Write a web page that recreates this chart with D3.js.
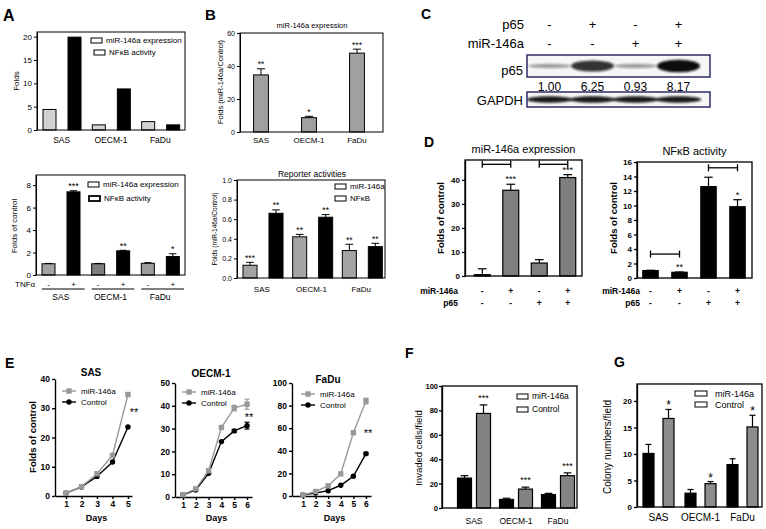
<!DOCTYPE html>
<html><head><meta charset="utf-8">
<script src="https://cdn.jsdelivr.net/npm/d3@7"></script>
<style>
body{margin:0;background:#fff}
svg{display:block;font-family:"Liberation Sans",Arial,Helvetica,sans-serif}
</style></head><body>
<svg id="fig" width="766" height="529"></svg>
<script>
// ---------------- DATA ----------------
const cellLines = ["SAS", "OECM-1", "FaDu"];
// Panel A (top)
const aTopMir = [4.4, 1.1, 1.8];
const aTopNfkb = [19.9, 8.8, 1.1];
const aTopTicks = [0, 5, 10, 15, 20];
// Panel A (bottom)
const aBotCtrl = [1.0, 1.0, 1.04];
const aBotCtrlErr = [0.03, 0.03, 0.06];
const aBotTnf = [7.4, 2.15, 1.64];
const aBotTnfErr = [0.1, 0.05, 0.25];
const aBotStars = ["***", "**", "*"];
const aBotTicks = [0, 2, 4, 6, 8];
const tnfSigns = ["-", "+"];
// Panel B (top)
const bTopVals = [34.6, 8.7, 47.8];
const bTopErr = [3.7, 0.8, 2.4];
const bTopStars = ["**", "*", "***"];
const bTopTicks = [0, 20, 40, 60];
// Panel B (bottom)
const bBotMir = [0.13, 0.42, 0.28];
const bBotMirErr = [0.03, 0.025, 0.064];
const bBotMirStars = ["***", "**", "**"];
const bBotNfkb = [0.66, 0.62, 0.32];
const bBotNfkbErr = [0.035, 0.027, 0.034];
const bBotNfkbStars = ["**", "**", "**"];
const bBotTicks = [0, 0.2, 0.4, 0.6, 0.8, 1.0];
// Panel C (western blot)
const cLanes = ["L1", "L2", "L3", "L4"];
const cP65Signs = ["-", "+", "-", "+"];
const cMirSigns = ["-", "-", "+", "+"];
const cP65Quant = [1.00, 6.25, 0.93, 8.17];
const cGapdh = [1, 1, 1, 1];
// Panel D
const dMirSigns = ["-", "+", "-", "+"];
const dP65Signs = ["-", "-", "+", "+"];
const dMirVals = [0.55, 35.7, 5.4, 41.0];
const dMirErr = [2.45, 2.5, 1.4, 1.2];
const dMirStars = ["", "***", "", "***"];
const dMirTicks = [0, 10, 20, 30, 40];
const dMirBrackets = [[0, 1], [2, 3]];
const dMirBracketLevel = [46.5, 46.5];
const dNfkbVals = [1.02, 0.79, 12.6, 9.83];
const dNfkbErr = [0.05, 0.04, 1.3, 0.97];
const dNfkbStars = ["", "**", "", "*"];
const dNfkbTicks = [0, 2, 4, 6, 8, 10, 12, 14, 16];
const dNfkbBrackets = [[0, 1], [2, 3]];
const dNfkbBracketLevel = [3.3, 15.2];
// Panel E (growth curves)
const days5 = [1, 2, 3, 4, 5];
const days6 = [1, 2, 3, 4, 5, 6];
const eSasMir = [1.0, 3.2, 7.6, 13.9, 34.7];
const eSasCtrl = [1.0, 3.1, 6.7, 11.6, 23.6];
const eOecmMir = [1.0, 3.6, 11.5, 30.5, 39.0, 40.7];
const eOecmMirErr = [0, 0, 0, 0, 1.2, 2.2];
const eOecmCtrl = [1.0, 3.1, 10.4, 24.3, 29.0, 31.3];
const eOecmCtrlErr = [0, 0, 0, 0, 0.6, 1.5];
const eFaduMir = [1.0, 4.0, 9.0, 19.5, 56.0, 84.0];
const eFaduMirErr = [0, 0, 0, 0, 1.5, 2.5];
const eFaduCtrl = [1.0, 2.6, 4.7, 9.5, 17.5, 37.5];
const eFaduCtrlErr = [0, 0, 0, 0, 0.5, 1.0];
const eSasTicks = [0, 10, 20, 30, 40];
const eOecmTicks = [0, 10, 20, 30, 40, 50];
const eFaduTicks = [0, 20, 40, 60, 80, 100];
// Panel F (invasion)
const fMir = [24.5, 7.0, 11.0];
const fMirErr = [2.0, 1.0, 1.0];
const fCtrl = [77.5, 15.5, 26.5];
const fCtrlErr = [7.0, 1.6, 2.3];
const fStars = ["***", "***", "***"];
const fTicks = [0, 20, 40, 60, 80, 100];
// Panel G (colony formation)
const gMir = [10.1, 2.6, 8.0];
const gMirErr = [1.7, 0.7, 1.1];
const gCtrl = [16.7, 4.4, 15.1];
const gCtrlErr = [1.7, 0.4, 2.2];
const gStars = ["*", "*", "*"];
const gTicks = [0, 5, 10, 15, 20];

// ---------------- HELPERS ----------------
const svg = d3.select("#fig");
const FF = '"Liberation Sans", Arial, Helvetica, sans-serif';
const defs = svg.append("defs");
defs.append("filter").attr("id", "blur").attr("x", "-30%").attr("y", "-150%")
  .attr("width", "160%").attr("height", "400%")
  .append("feGaussianBlur").attr("stdDeviation", 1.3);

function txt(g, x, y, s, o = {}) {
  const e = g.append("text").attr("x", x).attr("y", y).text(s)
    .attr("font-size", o.fs || 8).attr("font-weight", o.fw || "normal")
    .attr("text-anchor", o.anchor || "start").attr("fill", o.fill || "#000");
  if (o.rot) e.attr("transform", `rotate(-90,${x},${y})`).attr("dominant-baseline", "central");
  return e;
}
function frame(g, x0, y0, x1, y1, sw = 1) {
  g.append("rect").attr("x", x0).attr("y", y0).attr("width", x1 - x0).attr("height", y1 - y0)
    .attr("fill", "none").attr("stroke", "#000").attr("stroke-width", sw);
}
function yAxis(g, y, x0, ticks, o = {}) {
  const a = g.append("g").attr("transform", `translate(${x0},0)`)
    .call(d3.axisLeft(y).tickValues(ticks).tickSize(o.ts || 3).tickSizeOuter(0)
      .tickPadding(o.tp || 2).tickFormat(o.fmt || (d => d)));
  a.attr("font-family", FF).attr("font-size", o.fs || 8).attr("font-weight", o.fw || "normal");
  a.select(".domain").attr("stroke", "#000").attr("stroke-width", o.sw || 1);
  a.selectAll(".tick line").attr("stroke", "#000").attr("stroke-width", o.sw || 1);
  a.selectAll(".tick text").attr("fill", "#000");
  return a;
}
function xAxis(g, x, y0, ticks, o = {}) {
  const a = g.append("g").attr("transform", `translate(0,${y0})`)
    .call(d3.axisBottom(x).tickValues(ticks).tickSize(o.ts || 3).tickSizeOuter(0)
      .tickPadding(o.tp || 2).tickFormat(d3.format("d")));
  a.attr("font-family", FF).attr("font-size", o.fs || 8).attr("font-weight", o.fw || "normal");
  a.select(".domain").attr("stroke", "#000").attr("stroke-width", o.sw || 1);
  a.selectAll(".tick line").attr("stroke", "#000").attr("stroke-width", o.sw || 1);
  a.selectAll(".tick text").attr("fill", "#000");
  return a;
}
function drawBars(g, vals, errs, xPos, w, y, fill, o = {}) {
  const sw = o.sw || 1;
  g.append("g").selectAll("rect").data(vals).join("rect")
    .attr("x", (d, i) => xPos(i)).attr("y", d => y(d)).attr("width", w)
    .attr("height", d => y(0) - y(d))
    .attr("fill", (d, i) => typeof fill === "function" ? fill(i) : fill)
    .attr("stroke", "#000").attr("stroke-width", sw);
  if (errs) {
    const cw = o.cap || w * 0.55;
    const eg = g.append("g").attr("stroke", "#000").attr("stroke-width", sw);
    vals.forEach((d, i) => {
      if (!errs[i]) return;
      const cx = xPos(i) + w / 2, yt = y(d + errs[i]);
      eg.append("line").attr("x1", cx).attr("x2", cx).attr("y1", y(d)).attr("y2", yt);
      eg.append("line").attr("x1", cx - cw / 2).attr("x2", cx + cw / 2).attr("y1", yt).attr("y2", yt);
    });
  }
}
function drawStars(g, vals, errs, stars, xPos, w, y, fs, gap) {
  g.append("g").selectAll("text").data(stars).join("text")
    .attr("x", (d, i) => xPos(i) + w / 2)
    .attr("y", (d, i) => y(vals[i] + (errs ? errs[i] : 0)) - gap)
    .attr("text-anchor", "middle").attr("font-size", fs).attr("fill", "#000").text(d => d);
}
function catLabels(g, x, y0, fs, fw) {
  g.append("g").selectAll("text").data(cellLines).join("text")
    .attr("x", d => x(d) + x.bandwidth() / 2).attr("y", y0)
    .attr("text-anchor", "middle").attr("font-size", fs).attr("font-weight", fw || "normal").text(d => d);
}
function legendBox(g, x, y, w, h, label, o = {}) {
  g.append("rect").attr("x", x).attr("y", y).attr("width", w).attr("height", h)
    .attr("fill", o.fill || "#fff").attr("stroke", "#000").attr("stroke-width", o.sw || 1);
  txt(g, x + w + (o.gap || 4), y + h / 2 + (o.fs || 8) * 0.35, label, { fs: o.fs || 8 });
}

// ---------------- PANEL A (top) ----------------
{
  const g = svg.append("g");
  txt(g, 3, 21, "A", { fs: 16, fw: "bold" });
  const x = d3.scaleBand().domain(cellLines).range([37, 185]);
  const sub = d3.scaleBand().domain(["mir", "nfkb"]).range([6, 44]).paddingInner(0.48);
  const y = d3.scaleLinear().domain([0, 21]).range([130, 32]);
  drawBars(g, aTopMir, null, i => x(cellLines[i]) + sub("mir"), sub.bandwidth(), y, "#d2d2d2");
  drawBars(g, aTopNfkb, null, i => x(cellLines[i]) + sub("nfkb"), sub.bandwidth(), y, "#000");
  frame(g, 37, 32, 185, 130);
  yAxis(g, y, 37, aTopTicks, { fs: 8 });
  catLabels(g, x, 143, 8.5);
  legendBox(g, 91, 38, 11, 5, "miR-146a expression", { fs: 8 });
  legendBox(g, 94, 50, 11, 5, "NF\u03BAB activity", { fs: 8 });
  txt(g, 16, 81, "Folds", { fs: 8, rot: true, anchor: "middle" });
}

// ---------------- PANEL A (bottom) ----------------
{
  const g = svg.append("g");
  const x = d3.scaleBand().domain(cellLines).range([36, 185]);
  const sub = d3.scaleBand().domain(tnfSigns).range([6, 44]).paddingInner(0.48);
  const y = d3.scaleLinear().domain([0, 8.9]).range([275, 175]);
  const ctrlCols = ["#a3a3a3", "#7d7d7d", "#9c9c9c"];
  drawBars(g, aBotCtrl, aBotCtrlErr, i => x(cellLines[i]) + sub("-"), sub.bandwidth(), y, i => ctrlCols[i]);
  drawBars(g, aBotTnf, aBotTnfErr, i => x(cellLines[i]) + sub("+"), sub.bandwidth(), y, "#000");
  drawStars(g, aBotTnf, aBotTnfErr, aBotStars, i => x(cellLines[i]) + sub("+"), sub.bandwidth(), y, 9, 1.5);
  frame(g, 36, 175, 185, 275);
  yAxis(g, y, 36, aBotTicks, { fs: 8 });
  txt(g, 15, 287, "TNF\u03B1", { fs: 8 });
  cellLines.forEach(c => {
    g.append("g").selectAll("text").data(tnfSigns).join("text")
      .attr("x", s => x(c) + sub(s) + sub.bandwidth() / 2).attr("y", 287)
      .attr("text-anchor", "middle").attr("font-size", 8).text(s => s);
    g.append("line").attr("x1", x(c) + 6).attr("x2", x(c) + x.bandwidth() - 1)
      .attr("y1", 289).attr("y2", 289).attr("stroke", "#000").attr("stroke-width", 1);
  });
  catLabels(g, x, 300, 8.5);
  legendBox(g, 88, 182, 11, 5, "miR-146a expression", { fs: 8 });
  legendBox(g, 89, 196, 11, 5, "NF\u03BAB activity", { fs: 8, sw: 1.8 });
  txt(g, 14, 226, "Folds of control", { fs: 8, rot: true, anchor: "middle" });
}

// ---------------- PANEL B (top) ----------------
{
  const g = svg.append("g");
  txt(g, 205, 20, "B", { fs: 15, fw: "bold" });
  const x = d3.scaleBand().domain(cellLines).range([237, 381]).paddingInner(0.69).paddingOuter(0.345);
  const y = d3.scaleLinear().domain([0, 60]).range([132, 33]);
  drawBars(g, bTopVals, bTopErr, i => x(cellLines[i]), x.bandwidth(), y, "#a0a0a0");
  drawStars(g, bTopVals, bTopErr, bTopStars, i => x(cellLines[i]), x.bandwidth(), y, 8.5, 1.5);
  frame(g, 240, 33, 383, 132);
  yAxis(g, y, 240, bTopTicks, { fs: 7 });
  catLabels(g, x, 143, 8);
  txt(g, 312, 28, "miR-146a expression", { fs: 7.5, anchor: "middle" });
  txt(g, 220, 82, "Folds (miR-146a/Control)", { fs: 7.5, rot: true, anchor: "middle" });
}

// ---------------- PANEL B (bottom) ----------------
{
  const g = svg.append("g");
  const x = d3.scaleBand().domain(cellLines).range([237, 386]);
  const sub = d3.scaleBand().domain(["mir", "nfkb"]).range([6, 46]).paddingInner(0.46);
  const y = d3.scaleLinear().domain([0, 1]).range([278, 180]);
  drawBars(g, bBotMir, bBotMirErr, i => x(cellLines[i]) + sub("mir"), sub.bandwidth(), y, "#a4a4a4");
  drawBars(g, bBotNfkb, bBotNfkbErr, i => x(cellLines[i]) + sub("nfkb"), sub.bandwidth(), y, "#000");
  drawStars(g, bBotMir, bBotMirErr, bBotMirStars, i => x(cellLines[i]) + sub("mir"), sub.bandwidth(), y, 8.5, 1.5);
  drawStars(g, bBotNfkb, bBotNfkbErr, bBotNfkbStars, i => x(cellLines[i]) + sub("nfkb"), sub.bandwidth(), y, 8.5, 1.5);
  frame(g, 237, 180, 385, 278);
  yAxis(g, y, 237, bBotTicks, { fs: 7, fmt: d3.format(".1f") });
  catLabels(g, x, 292, 8);
  txt(g, 312, 177, "Reporter activities", { fs: 8.5, anchor: "middle" });
  legendBox(g, 335, 184, 11, 5, "miR-146a", { fs: 8 });
  legendBox(g, 335, 196, 11, 5, "NF\u03BAB", { fs: 8 });
  txt(g, 214, 229, "Folds (miR-146a/Control)", { fs: 6.5, rot: true, anchor: "middle" });
}

// ---------------- PANEL C ----------------
{
  const g = svg.append("g");
  txt(g, 421, 19, "C", { fs: 14, fw: "bold" });
  const x = d3.scaleBand().domain(cLanes).range([528, 700]);
  const cx = l => x(l) + x.bandwidth() / 2;
  txt(g, 524, 29, "p65", { fs: 13, anchor: "end" });
  txt(g, 524, 48, "miR-146a", { fs: 13, anchor: "end" });
  g.append("g").selectAll("text").data(cP65Signs).join("text")
    .attr("x", (d, i) => cx(cLanes[i])).attr("y", 29).attr("text-anchor", "middle")
    .attr("font-size", 13).text(d => d);
  g.append("g").selectAll("text").data(cMirSigns).join("text")
    .attr("x", (d, i) => cx(cLanes[i])).attr("y", 48).attr("text-anchor", "middle")
    .attr("font-size", 13).text(d => d);
  const bandRy = d3.scaleSqrt().domain([0, 8.17]).range([0, 6.3]);
  const bandOp = d3.scaleLinear().domain([0, 8.17]).range([0.3, 1]);
  defs.append("clipPath").attr("id", "clipP65").append("rect").attr("x", 527).attr("y", 55).attr("width", 183).attr("height", 22);
  defs.append("clipPath").attr("id", "clipGap").append("rect").attr("x", 527).attr("y", 92).attr("width", 183).attr("height", 15);
  g.append("rect").attr("x", 527).attr("y", 55).attr("width", 183).attr("height", 22).attr("fill", "#f6f6f6");
  g.append("g").attr("clip-path", "url(#clipP65)").selectAll("ellipse").data(cP65Quant).join("ellipse")
    .attr("cx", (d, i) => cx(cLanes[i])).attr("cy", 66)
    .attr("rx", x.bandwidth() * 0.5).attr("ry", d => bandRy(d))
    .attr("fill", "#0a0a0a").attr("opacity", d => bandOp(d)).attr("filter", "url(#blur)");
  g.append("rect").attr("x", 527).attr("y", 55).attr("width", 183).attr("height", 22)
    .attr("fill", "none").attr("stroke", "#2d2d6b").attr("stroke-width", 1.5);
  txt(g, 523, 75, "p65", { fs: 13, anchor: "end" });
  g.append("g").selectAll("text").data(cP65Quant).join("text")
    .attr("x", (d, i) => cx(cLanes[i])).attr("y", 90.5).attr("text-anchor", "middle")
    .attr("font-size", 12).text(d => d3.format(".2f")(d));
  g.append("rect").attr("x", 527).attr("y", 92).attr("width", 183).attr("height", 15).attr("fill", "#f6f6f6");
  g.append("g").attr("clip-path", "url(#clipGap)").selectAll("ellipse").data(cGapdh).join("ellipse")
    .attr("cx", (d, i) => cx(cLanes[i])).attr("cy", 99.5)
    .attr("rx", x.bandwidth() * 0.53).attr("ry", d => d * 3.2)
    .attr("fill", "#0a0a0a").attr("opacity", 0.95).attr("filter", "url(#blur)");
  g.append("rect").attr("x", 527).attr("y", 92).attr("width", 183).attr("height", 15)
    .attr("fill", "none").attr("stroke", "#2d2d6b").attr("stroke-width", 1.5);
  txt(g, 523, 105, "GAPDH", { fs: 13, anchor: "end" });
}

// ---------------- PANEL D ----------------
function panelD(opts) {
  const g = svg.append("g");
  const x = d3.scaleBand().domain(cLanes).range(opts.xr).paddingInner(opts.pad).paddingOuter(opts.pad / 2);
  const y = d3.scaleLinear().domain([0, opts.ymax]).range([opts.y0, opts.y1]);
  const bw = x.bandwidth();
  drawBars(g, opts.vals, opts.errs, i => x(cLanes[i]), bw, y, opts.fill, { sw: 1.2 });
  drawStars(g, opts.vals, opts.errs, opts.stars, i => x(cLanes[i]), bw, y, 9, 2);
  frame(g, opts.fx0, opts.y1, opts.fx1, opts.y0, 1.3);
  yAxis(g, y, opts.fx0, opts.ticks, { fs: 8, fw: "bold", sw: 1.3 });
  const bg = g.append("g").attr("stroke", "#000").attr("stroke-width", 1.3);
  opts.brackets.forEach(([a, b], k) => {
    const xa = x(cLanes[a]) + bw / 2, xb = x(cLanes[b]) + bw / 2, yy = y(opts.bLevel[k]);
    bg.append("line").attr("x1", xa).attr("x2", xb).attr("y1", yy).attr("y2", yy);
    bg.append("line").attr("x1", xa).attr("x2", xa).attr("y1", yy - 3.5).attr("y2", yy + 3.5);
    bg.append("line").attr("x1", xb).attr("x2", xb).attr("y1", yy - 3.5).attr("y2", yy + 3.5);
  });
  txt(g, opts.rowX, 294, "miR-146a", { fs: 8.5, fw: "bold", anchor: "end" });
  txt(g, opts.rowX, 306, "p65", { fs: 8.5, fw: "bold", anchor: "end" });
  [[dMirSigns, 294], [dP65Signs, 306]].forEach(([signs, yy]) => {
    g.append("g").selectAll("text").data(signs).join("text")
      .attr("x", (d, i) => x(cLanes[i]) + bw / 2).attr("y", yy).attr("text-anchor", "middle")
      .attr("font-size", 8.5).attr("font-weight", "bold").text(d => d);
  });
  txt(g, (opts.fx0 + opts.fx1) / 2, opts.titleY, opts.title, { fs: 11, anchor: "middle" });
  txt(g, opts.ylabX, 218, "Folds of control", { fs: 9.5, fw: "bold", rot: true, anchor: "middle" });
  return g;
}
{
  const g = panelD({ xr: [468, 582], pad: 0.44, ymax: 48.3, y0: 276, y1: 160, fx0: 465, fx1: 582,
    vals: dMirVals, errs: dMirErr, stars: dMirStars, fill: "#7f7f7f", ticks: dMirTicks,
    brackets: dMirBrackets, bLevel: dMirBracketLevel, rowX: 458, title: "miR-146a expression",
    titleY: 153, ylabX: 440 });
  txt(g, 424, 147, "D", { fs: 14, fw: "bold" });
  panelD({ xr: [636, 752], pad: 0.47, ymax: 16, y0: 278, y1: 162, fx0: 637, fx1: 752,
    vals: dNfkbVals, errs: dNfkbErr, stars: dNfkbStars, fill: "#000", ticks: dNfkbTicks,
    brackets: dNfkbBrackets, bLevel: dNfkbBracketLevel, rowX: 640, title: "NF\u03BAB activity",
    titleY: 155, ylabX: 613 });
}

// ---------------- PANEL E ----------------
function growth(o) {
  const g = svg.append("g");
  const x = d3.scaleLinear().domain(o.xd).range(o.xr);
  const y = d3.scaleLinear().domain([0, o.ymax]).range([o.y0, o.y1]);
  yAxis(g, y, o.xr[0], o.ticks, { fs: 8.5, fw: "bold", sw: 1.4 });
  xAxis(g, x, o.y0, o.days, { fs: 8.5, fw: "bold", sw: 1.4 });
  const line = d3.line().x(d => x(d[0])).y(d => y(d[1]));
  const series = [
    { v: o.ctrl, e: o.ctrlErr, col: "#000", shape: "circle" },
    { v: o.mir, e: o.mirErr, col: "#999", shape: "square" }
  ];
  series.forEach(s => {
    const pts = o.days.map((d, i) => [d, s.v[i], s.e ? s.e[i] : 0]);
    g.append("path").datum(pts).attr("d", line).attr("fill", "none")
      .attr("stroke", s.col).attr("stroke-width", 1.4);
    const eg = g.append("g").attr("stroke", s.col).attr("stroke-width", 1.2);
    pts.filter(p => p[2] > 0).forEach(p => {
      const px = x(p[0]);
      eg.append("line").attr("x1", px).attr("x2", px).attr("y1", y(p[1] - p[2])).attr("y2", y(p[1] + p[2]));
      [p[1] - p[2], p[1] + p[2]].forEach(v => eg.append("line").attr("x1", px - 2.5).attr("x2", px + 2.5).attr("y1", y(v)).attr("y2", y(v)));
    });
    if (s.shape === "circle") {
      g.append("g").selectAll("circle").data(pts).join("circle")
        .attr("cx", p => x(p[0])).attr("cy", p => y(p[1])).attr("r", 2.7).attr("fill", s.col);
    } else {
      g.append("g").selectAll("rect").data(pts).join("rect")
        .attr("x", p => x(p[0]) - 2.7).attr("y", p => y(p[1]) - 2.7).attr("width", 5.4).attr("height", 5.4).attr("fill", s.col);
    }
  });
  const lx = o.leg[0], ly = o.leg[1];
  [["miR-146a", "#999", "square", 0], ["Control", "#000", "circle", 11]].forEach(([lab, col, sh, dy]) => {
    g.append("line").attr("x1", lx).attr("x2", lx + 14).attr("y1", ly + dy).attr("y2", ly + dy)
      .attr("stroke", col).attr("stroke-width", 1.4);
    if (sh === "square") g.append("rect").attr("x", lx + 4.3).attr("y", ly + dy - 2.7).attr("width", 5.4).attr("height", 5.4).attr("fill", col);
    else g.append("circle").attr("cx", lx + 7).attr("cy", ly + dy).attr("r", 2.7).attr("fill", col);
    txt(g, lx + 19, ly + dy + 3, lab, { fs: 8 });
  });
  txt(g, o.title[1], o.title[2], o.title[0], { fs: 10, fw: "bold", anchor: "middle" });
  txt(g, (o.xr[0] + o.xr[1]) / 2 + 3, 521, "Days", { fs: 9, fw: "bold", anchor: "middle" });
  txt(g, o.star[0], o.star[1], "**", { fs: 11, anchor: "middle" });
  return g;
}
{
  const g = growth({ days: days5, mir: eSasMir, ctrl: eSasCtrl, xd: [0.29, 5.26], xr: [55, 132],
    ymax: 40, y0: 496, y1: 379, ticks: eSasTicks, leg: [62, 391], title: ["SAS", 91, 376], star: [134, 416] });
  txt(g, 5, 368, "E", { fs: 14, fw: "bold" });
  txt(g, 32, 437, "Folds of control", { fs: 9.5, fw: "bold", rot: true, anchor: "middle" });
  growth({ days: days6, mir: eOecmMir, ctrl: eOecmCtrl, mirErr: eOecmMirErr, ctrlErr: eOecmCtrlErr,
    xd: [0.375, 6.39], xr: [175, 252], ymax: 50, y0: 497, y1: 383, ticks: eOecmTicks,
    leg: [182, 392], title: ["OECM-1", 211, 377], star: [249, 421] });
  growth({ days: days6, mir: eFaduMir, ctrl: eFaduCtrl, mirErr: eFaduMirErr, ctrlErr: eFaduCtrlErr,
    xd: [0.127, 6.4], xr: [292, 371], ymax: 100, y0: 496, y1: 383, ticks: eFaduTicks,
    leg: [301, 394], title: ["FaDu", 328, 383], star: [368, 437] });
}

// ---------------- PANEL F ----------------
{
  const g = svg.append("g");
  txt(g, 405, 358, "F", { fs: 14, fw: "bold" });
  const x = d3.scaleBand().domain(cellLines).range([453, 579]);
  const sub = d3.scaleBand().domain(["mir", "ctrl"]).range([4.5, 37.5]).paddingInner(0.263);
  const y = d3.scaleLinear().domain([0, 100]).range([508, 386]);
  drawBars(g, fMir, fMirErr, i => x(cellLines[i]) + sub("mir"), sub.bandwidth(), y, "#000", { sw: 1.2 });
  drawBars(g, fCtrl, fCtrlErr, i => x(cellLines[i]) + sub("ctrl"), sub.bandwidth(), y, "#838383", { sw: 1.2 });
  drawStars(g, fCtrl, fCtrlErr, fStars, i => x(cellLines[i]) + sub("ctrl"), sub.bandwidth(), y, 9, 4);
  frame(g, 442, 386, 577, 508, 1.3);
  yAxis(g, y, 442, fTicks, { fs: 7.5, fw: "bold", sw: 1.3, tp: 1 });
  catLabels(g, x, 524, 8.5);
  legendBox(g, 517, 394, 11, 5, "miR-146a", { fs: 8.5 });
  legendBox(g, 517, 407, 11, 5, "Control", { fs: 8.5 });
  txt(g, 418, 448, "Invaded cells/field", { fs: 9.5, rot: true, anchor: "middle" });
}

// ---------------- PANEL G ----------------
{
  const g = svg.append("g");
  txt(g, 614, 367, "G", { fs: 14, fw: "bold" });
  const x = d3.scaleBand().domain(cellLines).range([637.5, 763.5]);
  const sub = d3.scaleBand().domain(["mir", "ctrl"]).range([5.5, 36.5]).paddingInner(0.45);
  const y = d3.scaleLinear().domain([0, 23.2]).range([507, 384]);
  drawBars(g, gMir, gMirErr, i => x(cellLines[i]) + sub("mir"), sub.bandwidth(), y, "#000", { sw: 1.2 });
  drawBars(g, gCtrl, gCtrlErr, i => x(cellLines[i]) + sub("ctrl"), sub.bandwidth(), y, "#8c8c8c", { sw: 1.2 });
  drawStars(g, gCtrl, gCtrlErr, gStars, i => x(cellLines[i]) + sub("ctrl"), sub.bandwidth(), y, 12, 0);
  frame(g, 637, 384, 762, 507, 1.3);
  yAxis(g, y, 637, gTicks, { fs: 8, fw: "bold", sw: 1.3 });
  catLabels(g, x, 521, 10);
  legendBox(g, 695, 391, 12, 5, "miR-146a", { fs: 9, gap: 8 });
  legendBox(g, 695, 402, 12, 5, "Control", { fs: 9, gap: 8 });
  txt(g, 607, 447, "Colony numbers/field", { fs: 10, rot: true, anchor: "middle" });
}
</script></body></html>
